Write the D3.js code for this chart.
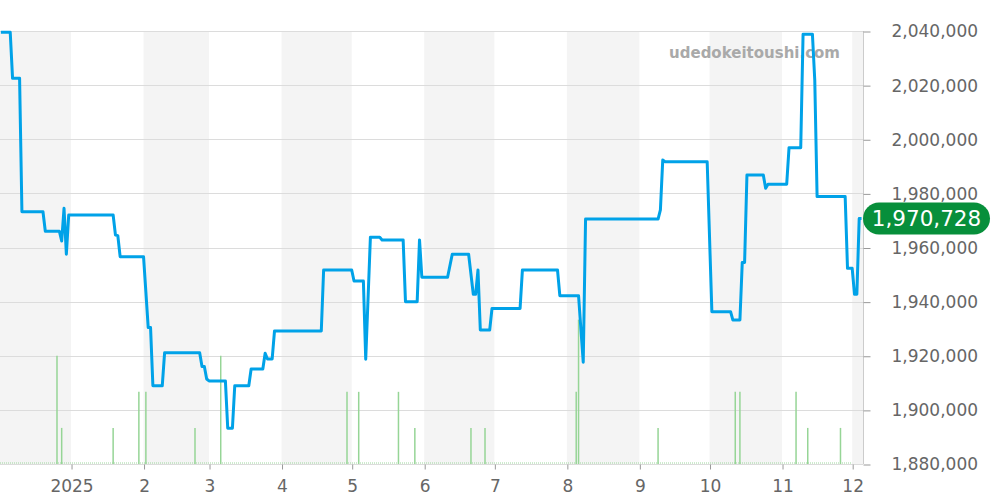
<!DOCTYPE html>
<html lang="en">
<head>
<meta charset="UTF-8">
<title>Price chart</title>
<style>
    body {
        margin: 0;
        background: #fff;
    }
    svg {
        display: block;
        font-family: 'DejaVu Sans', sans-serif;
    }
</style>
</head>
<body>
<script src="https://cdn.jsdelivr.net/npm/d3@7/dist/d3.min.js"></script>
<script>

    // price line (daily points where the price changes)
    var priceDates = [
        '2024-12-02', '2024-12-06', '2024-12-07', '2024-12-10', '2024-12-11', '2024-12-20',
        '2024-12-21', '2024-12-27', '2024-12-28', '2024-12-29', '2024-12-30', '2024-12-31',
        '2025-01-19', '2025-01-20', '2025-01-21', '2025-01-22', '2025-02-01', '2025-02-03',
        '2025-02-04', '2025-02-05', '2025-02-09', '2025-02-10', '2025-02-25', '2025-02-26',
        '2025-02-27', '2025-02-28', '2025-03-01', '2025-03-08', '2025-03-09', '2025-03-11',
        '2025-03-12', '2025-03-18', '2025-03-19', '2025-03-24', '2025-03-25', '2025-03-26',
        '2025-03-28', '2025-03-29', '2025-04-18', '2025-04-19', '2025-05-01', '2025-05-02',
        '2025-05-06', '2025-05-07', '2025-05-09', '2025-05-13', '2025-05-14', '2025-05-23',
        '2025-05-24', '2025-05-29', '2025-05-30', '2025-05-31', '2025-06-11', '2025-06-13',
        '2025-06-20', '2025-06-22', '2025-06-23', '2025-06-24', '2025-06-25', '2025-06-29',
        '2025-06-30', '2025-07-12', '2025-07-13', '2025-07-28', '2025-07-29', '2025-08-06',
        '2025-08-08', '2025-08-09', '2025-09-09', '2025-09-10', '2025-09-11', '2025-09-12',
        '2025-09-30', '2025-10-02', '2025-10-10', '2025-10-11', '2025-10-14', '2025-10-15',
        '2025-10-16', '2025-10-17', '2025-10-24', '2025-10-25', '2025-10-26', '2025-11-03',
        '2025-11-04', '2025-11-09', '2025-11-10', '2025-11-14', '2025-11-15', '2025-11-16',
        '2025-11-28', '2025-11-29', '2025-12-01', '2025-12-02', '2025-12-03', '2025-12-04',
        '2025-12-05'
    ];
    var prices = [
        2039500, 2039500, 2022500, 2022500, 1973200, 1973200,
        1966000, 1966000, 1962400, 1974500, 1957500, 1972000,
        1972000, 1964600, 1964400, 1956600, 1956600, 1930400,
        1930400, 1908900, 1908900, 1921100, 1921100, 1916000,
        1916000, 1911400, 1910700, 1910700, 1893200, 1893200,
        1908900, 1908900, 1915100, 1915100, 1920900, 1918800,
        1918800, 1929150, 1929150, 1951700, 1951700, 1947600,
        1947600, 1918700, 1963800, 1963800, 1962800, 1962800,
        1940000, 1940000, 1962800, 1949000, 1949000, 1957500,
        1957500, 1942700, 1942700, 1951700, 1929500, 1929500,
        1937500, 1937500, 1951700, 1951700, 1942200, 1942200,
        1917600, 1970500, 1970500, 1973900, 1992300, 1991700,
        1991700, 1936300, 1936300, 1933200, 1933200, 1954500,
        1954500, 1986800, 1986800, 1981900, 1983400, 1983400,
        1996900, 1996900, 2038800, 2038800, 2021900, 1978800,
        1978800, 1952300, 1952300, 1942700, 1942700, 1970728,
        1970728
    ];

    // number of trades per day
    var volumeDates = [
        '2024-12-26', '2024-12-28', '2025-01-19', '2025-01-30', '2025-02-02', '2025-02-23',
        '2025-03-06', '2025-04-29', '2025-05-04', '2025-05-21', '2025-05-28', '2025-06-21',
        '2025-06-27', '2025-08-05', '2025-08-06', '2025-09-09', '2025-10-12', '2025-10-14',
        '2025-11-07', '2025-11-12', '2025-11-26'
    ];
    var volumes = [3, 1, 1, 2, 2, 1, 3, 2, 2, 2, 1, 1, 1, 2, 4, 1, 2, 2, 2, 1, 1];

    var yTicks = [1880000, 1900000, 1920000, 1940000, 1960000, 1980000, 2000000, 2020000, 2040000];
    var monthTicks = [
        '2025-01-01', '2025-02-01', '2025-03-01', '2025-04-01', '2025-05-01', '2025-06-01',
        '2025-07-01', '2025-08-01', '2025-09-01', '2025-10-01', '2025-11-01', '2025-12-01'
    ];
    var monthLabels = ['2025', '2', '3', '4', '5', '6', '7', '8', '9', '10', '11', '12'];

    var lastPrice = 1970728;
    var siteName = 'udedokeitoushi.com';

    var width = 1000,
        height = 500;
    var plotLeft = 0,
        plotRight = 863,
        plotTop = 31,
        plotBottom = 464;

    var parse = d3.timeParse('%Y-%m-%d');

    var x = d3.scaleTime()
        .domain([new Date(2024, 11, 1, 15), new Date(2025, 11, 5, 15)])
        .range([plotLeft, plotRight]);

    var y = d3.scaleLinear()
        .domain([1880000, 2040000])
        .range([plotBottom, plotTop]);

    var v = d3.scaleLinear()
        .domain([0, 12])
        .range([plotBottom, plotTop]);

    var svg = d3.select('body').append('svg')
        .attr('width', width)
        .attr('height', height);

    svg.append('clipPath')
        .attr('id', 'plot-clip')
        .append('rect')
        .attr('x', plotLeft)
        .attr('y', plotTop)
        .attr('width', plotRight - plotLeft)
        .attr('height', plotBottom - plotTop);

    // alternate month shading (Dec, Feb, Apr ...)
    var months = d3.timeMonth.range(new Date(2024, 11, 1), new Date(2026, 0, 1));
    svg.append('g')
        .attr('clip-path', 'url(#plot-clip)')
        .selectAll('rect')
        .data(months.filter((d, i) => i % 2 === 0))
        .enter()
        .append('rect')
        .attr('x', d => x(d))
        .attr('y', plotTop)
        .attr('width', d => x(d3.timeMonth.offset(d, 1)) - x(d))
        .attr('height', plotBottom - plotTop)
        .attr('fill', '#f4f4f4');

    svg.append('g')
        .selectAll('line')
        .data(yTicks)
        .enter()
        .append('line')
        .attr('x1', plotLeft)
        .attr('x2', plotRight)
        .attr('y1', d => Math.round(y(d)) + 0.5)
        .attr('y2', d => Math.round(y(d)) + 0.5)
        .attr('stroke', '#dcdcdc')
        .attr('stroke-width', 1);

    // right axis
    var yAxis = d3.axisRight(y)
        .tickValues(yTicks)
        .tickSize(7)
        .tickPadding(21)
        .tickFormat(d3.format(','));

    var ya = svg.append('g')
        .attr('transform', 'translate(' + (plotRight + 0.5) + ',0.5)')
        .call(yAxis);
    ya.select('.domain').attr('stroke', '#cccccc').attr('d', 'M0,' + (plotTop - 0.5) + 'V' + (plotBottom - 0.5));
    ya.selectAll('.tick line').attr('stroke', '#999');
    ya.selectAll('.tick text')
        .attr('fill', '#666')
        .attr('font-size', 17)
        .attr('font-family', "'DejaVu Sans', sans-serif");

    // bottom axis
    var xAxis = d3.axisBottom(x)
        .tickValues(monthTicks.map(parse))
        .tickSize(5)
        .tickPadding(10)
        .tickFormat((d, i) => monthLabels[i]);

    var xa = svg.append('g')
        .attr('transform', 'translate(0.5,' + (plotBottom + 0.5) + ')')
        .call(xAxis);
    xa.select('.domain').remove();
    xa.selectAll('.tick line').attr('stroke', '#999');
    xa.selectAll('.tick text')
        .attr('fill', '#666')
        .attr('font-size', 17)
        .attr('font-family', "'DejaVu Sans', sans-serif");

    // trade volume
    svg.append('line')
        .attr('x1', plotLeft)
        .attr('x2', x(parse('2025-12-01')))
        .attr('y1', plotBottom - 1)
        .attr('y2', plotBottom - 1)
        .attr('stroke', '#9cd79c')
        .attr('stroke-width', 1)
        .attr('stroke-dasharray', '1,1');

    svg.append('g')
        .selectAll('line')
        .data(volumes)
        .enter()
        .append('line')
        .attr('x1', (d, i) => x(parse(volumeDates[i])))
        .attr('x2', (d, i) => x(parse(volumeDates[i])))
        .attr('y1', v(0))
        .attr('y2', d => v(d))
        .attr('stroke', '#96d596')
        .attr('stroke-width', 1.5);

    svg.append('text')
        .attr('x', 840)
        .attr('y', 58)
        .attr('text-anchor', 'end')
        .attr('font-size', 15)
        .attr('font-weight', 'bold')
        .attr('fill', '#a9a9a9')
        .text(siteName);

    var line = d3.line()
        .x((d, i) => x(parse(priceDates[i])))
        .y(d => y(d));

    svg.append('path')
        .datum(prices)
        .attr('fill', 'none')
        .attr('stroke', '#00a2e8')
        .attr('stroke-width', 3)
        .attr('stroke-linejoin', 'round')
        .attr('d', line);

    // last price badge
    var by = y(lastPrice);
    svg.append('rect')
        .attr('x', plotRight)
        .attr('y', by - 16)
        .attr('width', 127)
        .attr('height', 32)
        .attr('rx', 16)
        .attr('fill', '#078f3b');

    svg.append('text')
        .attr('x', plotRight + 63.5)
        .attr('y', by)
        .attr('dy', '0.36em')
        .attr('text-anchor', 'middle')
        .attr('font-size', 21.5)
        .attr('fill', '#fff')
        .text(d3.format(',')(lastPrice));
</script>
</body>
</html>
